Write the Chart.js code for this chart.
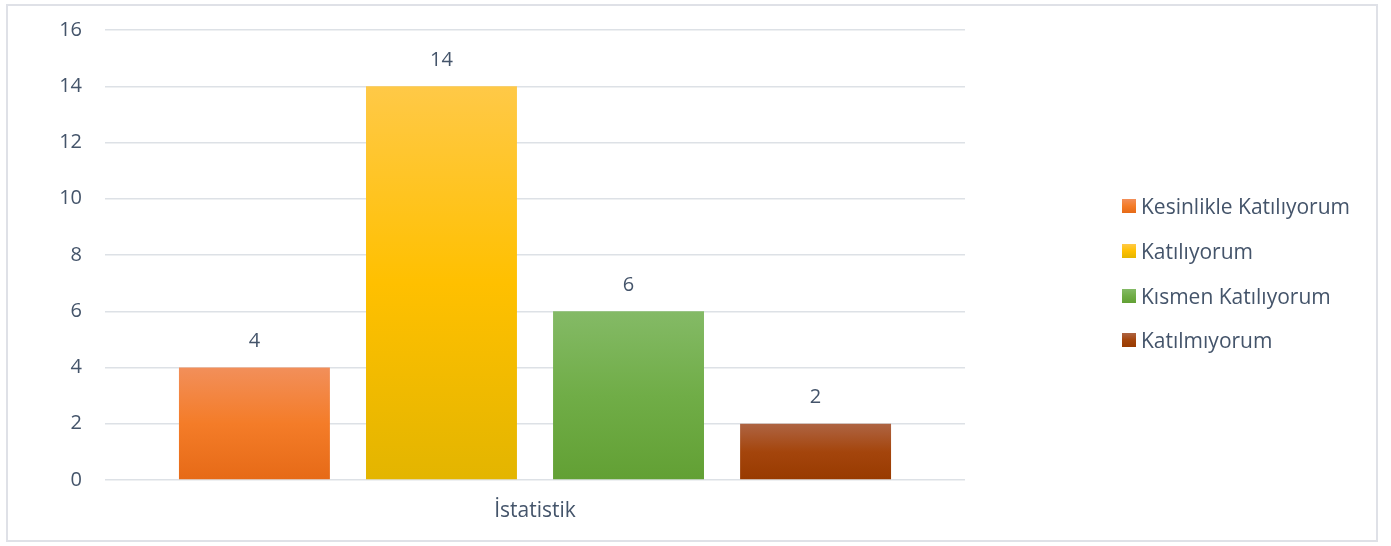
<!DOCTYPE html>
<html lang="tr">
<head>
<meta charset="utf-8">
<title>İstatistik</title>
<script src="https://cdn.jsdelivr.net/npm/chart.js@4.4.1/dist/chart.umd.min.js"></script>
<style>
    html, body { margin: 0; padding: 0; background: #fff; }
    #wrap { position: absolute; left: 0; top: 0; width: 1391px; height: 546px; }
    #chart { display: block; }
    #frame {
        position: absolute; left: 6px; top: 4px; width: 1368px; height: 534px;
        border: 2px solid #dfe1e7; pointer-events: none;
    }
    #legend {
        position: absolute; left: 1122px; top: 184px;
        font-family: 'Open Sans', sans-serif; font-size: 21px; color: #44546a;
    }
    .item { height: 44.7px; display: flex; align-items: center; white-space: nowrap; }
    .box { width: 14px; height: 14px; margin-right: 5px; }
</style>
</head>
<body>
<div id="wrap">
    <canvas id="chart" width="1391" height="546"></canvas>
    <div id="frame"></div>
    <div id="legend"></div>
</div>
<script>
// --- data ---
const categories = ['İstatistik'];
const seriesNames = ['Kesinlikle Katılıyorum', 'Katılıyorum', 'Kısmen Katılıyorum', 'Katılmıyorum'];
const seriesValues = [[4], [14], [6], [2]];
const yTicks = [0, 2, 4, 6, 8, 10, 12, 14, 16];

// gradient stops (top, middle, bottom) for each series
const seriesColors = [
    ['#f28f5a', '#f47c28', '#e66a17'],
    ['#ffc947', '#ffc000', '#e3b500'],
    ['#84ba66', '#70ad47', '#62a034'],
    ['#ae6443', '#a4450c', '#983a00']
];

const textColor = '#44546a';
const fontFamily = "'Open Sans', sans-serif";

function barGradient(colors) {
    return function(context) {
        const chart = context.chart;
        if (!chart.chartArea || context.parsed === undefined) return colors[1];
        const y = chart.scales.y;
        const top = y.getPixelForValue(context.parsed.y);
        const bottom = y.getPixelForValue(0);
        const g = chart.ctx.createLinearGradient(0, top, 0, bottom);
        g.addColorStop(0, colors[0]);
        g.addColorStop(0.5, colors[1]);
        g.addColorStop(1, colors[2]);
        return g;
    };
}

// value labels above each bar
const valueLabels = {
    id: 'valueLabels',
    afterDatasetsDraw(chart) {
        const ctx = chart.ctx;
        ctx.save();
        ctx.font = '20px ' + fontFamily;
        ctx.fillStyle = textColor;
        ctx.textAlign = 'center';
        ctx.textBaseline = 'middle';
        chart.data.datasets.forEach((ds, i) => {
            chart.getDatasetMeta(i).data.forEach((bar, j) => {
                ctx.fillText(String(ds.data[j]), bar.x, bar.y - 26);
            });
        });
        ctx.restore();
    }
};

document.addEventListener('DOMContentLoaded', function() {
    const canvas = document.getElementById('chart');
    const chart = new Chart(canvas.getContext('2d'), {
        type: 'bar',
        data: {
            labels: categories,
            datasets: seriesNames.map((name, i) => ({
                label: name,
                data: seriesValues[i],
                backgroundColor: barGradient(seriesColors[i]),
                borderWidth: 0,
                categoryPercentage: 0.87,
                barPercentage: 0.807
            }))
        },
        options: {
            responsive: false,
            animation: false,
            layout: { padding: { left: 0, right: 426, top: 30, bottom: 0 } },
            plugins: { legend: { display: false }, tooltip: { enabled: false } },
            scales: {
                x: {
                    grid: { display: false, drawTicks: false },
                    border: { display: false },
                    ticks: { color: textColor, font: { family: fontFamily, size: 21 }, padding: 18 },
                    afterFit(scale) {
                        scale.height = 66;
                        scale.paddingLeft = 0;
                        scale.paddingRight = 0;
                    }
                },
                y: {
                    min: 0,
                    max: 16,
                    afterBuildTicks(scale) { scale.ticks = yTicks.map(v => ({ value: v })); },
                    grid: { color: '#dde1e6', lineWidth: 1.5, drawTicks: false },
                    border: { display: false },
                    ticks: { color: textColor, font: { family: fontFamily, size: 20 }, padding: 23 },
                    afterFit(scale) {
                        scale.width = 105;
                        scale.paddingTop = 0;
                        scale.paddingBottom = 0;
                    }
                }
            }
        },
        plugins: [valueLabels]
    });

    // html legend built from the datasets
    const legend = document.getElementById('legend');
    chart.data.datasets.forEach((ds, i) => {
        const c = seriesColors[i];
        const item = document.createElement('div');
        item.className = 'item';
        item.innerHTML = '<span class="box" style="background:linear-gradient(' +
            c[0] + ',' + c[1] + ',' + c[2] + ')"></span><span>' + ds.label + '</span>';
        legend.appendChild(item);
    });
});
</script>
</body>
</html>
